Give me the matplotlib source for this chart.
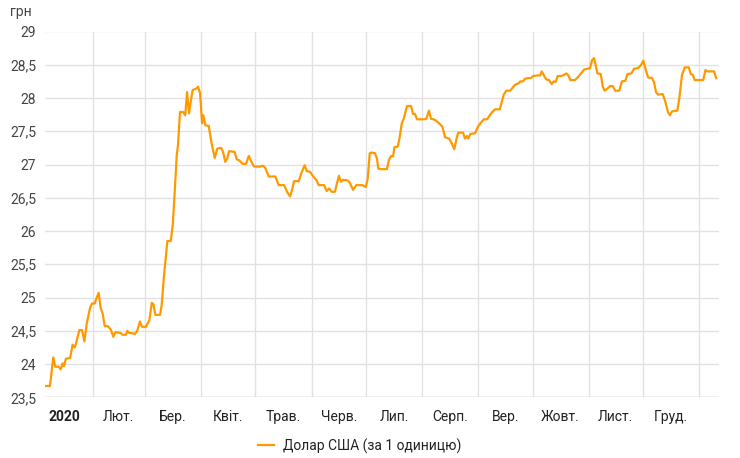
import numpy as np
import matplotlib
matplotlib.use("Agg")
import matplotlib.pyplot as plt
import matplotlib.dates as mdates
from matplotlib.ticker import FixedLocator, NullFormatter, FixedFormatter
import datetime as dt

plt.rcParams['font.family'] = ['Roboto', 'DejaVu Sans']

# Day offsets from 1 Jan 2020 and official USD rate (UAH)
days = [5.3, 7.5, 9.3, 10.4, 12.3, 13.4, 14.5, 15.2, 16.3, 18.6, 20.0, 21.2, 21.9, 23.7, 25.2,
        26.5, 27.8, 29.6, 30.7, 32.2, 33.3, 34.4, 35.5, 36.6, 37.7, 39.5, 41.0, 42.5, 43.6, 46.2,
        47.7, 49.5, 50.2, 51.0, 53.5, 54.3, 55.7, 57.2, 58.3, 60.5, 62.4, 63.7, 64.6, 65.7, 68.3,
        69.2, 70.5, 71.6, 72.3, 74.2, 75.3, 76.4, 77.5, 78.2, 79.3, 81.1, 82.2, 83.2, 84.3, 85.2,
        86.3, 88.2, 89.3, 90.4, 91.5, 92.2, 93.3, 95.2, 96.6, 98.5, 99.9, 102.1, 103.2, 104.3, 105.4,
        106.4, 109.5, 110.6, 112.1, 113.9, 115.8, 117.3, 118.4, 120.2, 123.5, 125.3, 126.4, 128.3, 132.0, 133.8,
        136.8, 138.6, 140.1, 141.2, 142.3, 144.9, 146.3, 148.2, 149.3, 151.1, 152.9, 154.8, 155.9, 158.9, 160.3,
        161.6, 163.1, 164.9, 166.0, 167.1, 168.2, 169.3, 171.9, 173.0, 174.9, 176.7, 180.0, 181.9, 183.0, 184.1,
        185.2, 187.0, 188.1, 188.8, 190.3, 193.6, 194.7, 195.9, 197.0, 197.7, 199.6, 200.7, 201.8, 202.9, 204.7,
        206.9, 208.0, 209.1, 210.2, 214.2, 215.4, 216.8, 217.9, 220.2, 222.4, 224.2, 225.7, 227.9, 229.4, 230.8,
        232.3, 233.0, 235.6, 236.7, 237.7, 238.5, 239.7, 242.3, 243.7, 245.2, 247.1, 248.9, 250.4, 251.8, 253.3,
        255.9, 257.0, 258.1, 259.5, 261.7, 262.9, 264.0, 265.1, 266.2, 267.3, 268.8, 269.9, 271.7, 273.2, 274.3,
        276.9, 278.3, 279.1, 280.5, 281.6, 283.1, 284.6, 285.7, 286.8, 287.9, 289.4, 290.9, 292.7, 293.8, 294.9,
        297.5, 299.0, 300.8, 302.6, 304.5, 305.8, 306.9, 308.0, 308.7, 309.8, 311.7, 312.8, 313.9, 315.3, 316.8,
        318.3, 319.7, 321.9, 323.4, 325.3, 326.4, 328.6, 330.1, 332.3, 333.8, 335.2, 336.3, 337.8, 340.0, 341.1,
        342.2, 343.3, 345.9, 347.4, 348.8, 349.9, 351.1, 354.0, 355.1, 356.6, 358.1, 360.3, 361.4, 362.5, 363.6,
        368.3, 369.5, 370.6, 374.3, 375.4]
usd = [23.67, 23.67, 24.10, 23.96, 23.96, 23.92, 24.01, 23.97, 24.08, 24.09, 24.29, 24.25, 24.31, 24.51, 24.51,
       24.34, 24.61, 24.84, 24.91, 24.91, 25.00, 25.07, 24.84, 24.76, 24.57, 24.57, 24.52, 24.41, 24.48, 24.47,
       24.44, 24.44, 24.50, 24.47, 24.46, 24.45, 24.50, 24.64, 24.56, 24.56, 24.66, 24.92, 24.90, 24.74, 24.74,
       24.89, 25.34, 25.64, 25.85, 25.85, 26.09, 26.59, 27.14, 27.29, 27.79, 27.79, 27.74, 28.09, 27.77, 27.94,
       28.12, 28.14, 28.17, 28.07, 27.62, 27.74, 27.59, 27.58, 27.34, 27.10, 27.24, 27.25, 27.18, 27.04, 27.09,
       27.20, 27.19, 27.08, 27.06, 27.01, 27.01, 27.13, 27.06, 26.97, 26.97, 26.98, 26.95, 26.82, 26.82, 26.69,
       26.69, 26.58, 26.52, 26.62, 26.75, 26.75, 26.87, 26.99, 26.90, 26.89, 26.82, 26.76, 26.69, 26.69, 26.60,
       26.64, 26.59, 26.59, 26.72, 26.83, 26.74, 26.77, 26.76, 26.73, 26.62, 26.69, 26.69, 26.66, 26.79, 27.17,
       27.18, 27.17, 27.09, 26.94, 26.93, 26.93, 27.07, 27.13, 27.12, 27.26, 27.27, 27.42, 27.62, 27.69, 27.88,
       27.88, 27.76, 27.76, 27.68, 27.68, 27.69, 27.81, 27.69, 27.67, 27.62, 27.57, 27.41, 27.39, 27.32, 27.23,
       27.42, 27.48, 27.48, 27.39, 27.43, 27.39, 27.46, 27.47, 27.56, 27.62, 27.68, 27.68, 27.74, 27.79, 27.83,
       27.83, 27.94, 28.05, 28.11, 28.11, 28.15, 28.19, 28.21, 28.22, 28.25, 28.25, 28.29, 28.30, 28.30, 28.33,
       28.34, 28.34, 28.40, 28.33, 28.28, 28.27, 28.21, 28.25, 28.24, 28.33, 28.33, 28.34, 28.37, 28.34, 28.27,
       28.27, 28.31, 28.37, 28.43, 28.44, 28.45, 28.57, 28.60, 28.52, 28.37, 28.36, 28.17, 28.11, 28.14, 28.18,
       28.18, 28.11, 28.11, 28.25, 28.26, 28.36, 28.37, 28.44, 28.45, 28.49, 28.56, 28.45, 28.31, 28.30, 28.24,
       28.09, 28.05, 28.06, 27.94, 27.79, 27.74, 27.80, 27.81, 28.00, 28.35, 28.46, 28.46, 28.36, 28.35, 28.27,
       28.27, 28.42, 28.40, 28.40, 28.30]

month_labels = ['2020', 'Лют.', 'Бер.', 'Квіт.', 'Трав.', 'Черв.', 'Лип.', 'Серп.',
                'Вер.', 'Жовт.', 'Лист.', 'Груд.']
y_ticks = [23.5, 24, 24.5, 25, 25.5, 26, 26.5, 27, 27.5, 28, 28.5, 29]
series_name = 'Долар США (за 1 одиницю)'
unit_label = 'грн'

base = mdates.date2num(dt.datetime(2020, 1, 1))
x = base + np.array(days)

fig = plt.figure(figsize=(7.4, 4.58), dpi=100)
ax = fig.add_axes([44.5 / 740, 1 - 397.3 / 458, (719 - 44.5) / 740, (397.3 - 31.5) / 458])

line, = ax.plot(x, usd, color='#ff9900', lw=1.6, solid_joinstyle='round', label=series_name, zorder=3)

ax.set_xlim(base + 4.47, base + 377.0)
ax.set_ylim(23.5, 29)

# month boundaries (gridlines) and month centres (labels)
starts = [mdates.date2num(dt.datetime(2020, m, 1)) for m in range(1, 13)] + \
         [mdates.date2num(dt.datetime(2021, 1, 1))]
centres = [(starts[i] + starts[i + 1]) / 2 for i in range(12)]
ax.xaxis.set_major_locator(FixedLocator(starts[1:]))
ax.xaxis.set_major_formatter(NullFormatter())
ax.xaxis.set_minor_locator(FixedLocator(centres))
ax.xaxis.set_minor_formatter(FixedFormatter(month_labels))
ax.tick_params(axis='x', which='both', length=0)
ax.tick_params(axis='x', which='minor', pad=9, labelsize=10, labelcolor='#222222')
for lbl in ax.xaxis.get_minorticklabels():
    if lbl.get_text() == '2020':
        lbl.set_fontweight('bold')

ax.set_yticks(y_ticks)
ax.set_yticklabels([('%g' % v).replace('.', ',') for v in y_ticks])
ax.tick_params(axis='y', length=0, pad=6, labelsize=10, labelcolor='#444444')

ax.grid(True, which='major', color='#e2e2e2', lw=1)
for s in ax.spines.values():
    s.set_visible(False)
ax.axhline(23.5, color='#cccccc', lw=1, zorder=2)

fig.text(10 / 740, 1 - 12 / 458, unit_label, fontsize=10, color='#444444', va='center', ha='left')

fig.legend(handles=[line], loc='center', bbox_to_anchor=(360 / 740, 1 - 446 / 458),
           frameon=False, fontsize=10, handlelength=1.1, handletextpad=0.7,
           labelcolor='#222222')

fig.savefig('out.png', dpi=100)
